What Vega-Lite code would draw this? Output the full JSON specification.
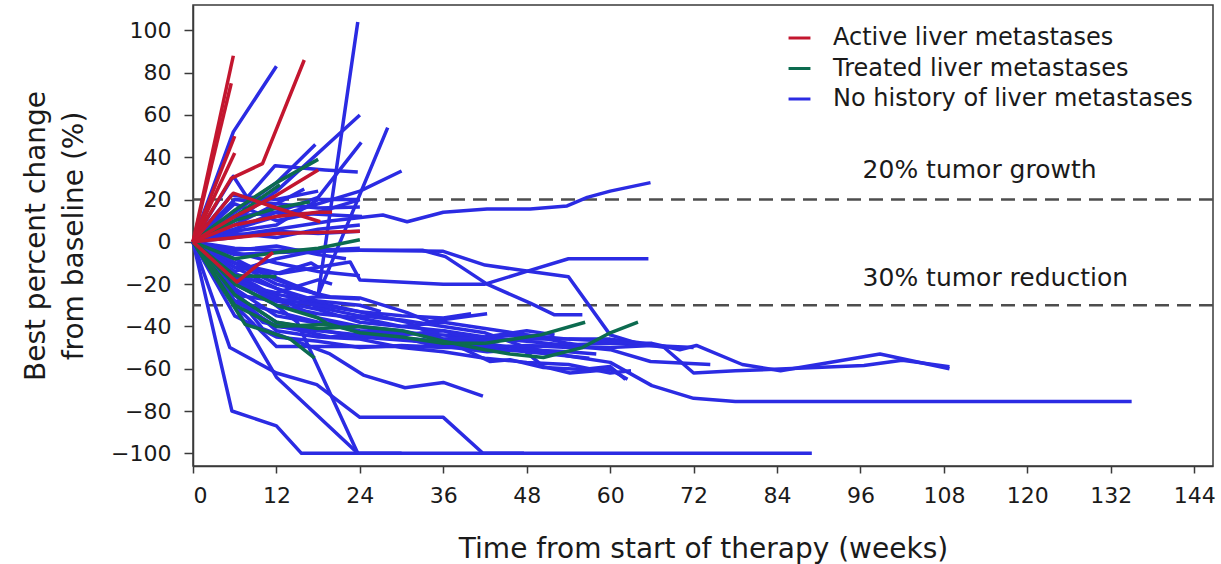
{
  "$schema": "https://vega.github.io/schema/vega-lite/v6.json",
  "width": 1020,
  "height": 461,
  "autosize": "none",
  "padding": {"left": 193, "top": 5, "right": 8, "bottom": 98},
  "background": "white",
  "config": {
    "font": "DejaVu Sans",
    "view": {"stroke": "#3a3a3a", "strokeWidth": 1.5},
    "axis": {"grid": false, "domainColor": "#3a3a3a", "domainWidth": 1.5, "tickColor": "#3a3a3a", "tickWidth": 1.5, "labelColor": "#1a1a1a", "titleColor": "#1a1a1a", "titleFontWeight": "normal", "labelFont": "DejaVu Sans", "titleFont": "DejaVu Sans"},
    "legend": {"labelFont": "DejaVu Sans"},
    "text": {"font": "DejaVu Sans"}
  },
  "datasets": {
    "lines": [
      {"id":1,"g":"N","w":0,"v":0},{"id":1,"g":"N","w":6,"v":-10},{"id":1,"g":"N","w":12,"v":-17},{"id":1,"g":"N","w":18,"v":-25},{"id":1,"g":"N","w":23.7,"v":104},
      {"id":2,"g":"N","w":0,"v":0},{"id":2,"g":"N","w":5.8,"v":52},{"id":2,"g":"N","w":12,"v":83},
      {"id":3,"g":"N","w":0,"v":0},{"id":3,"g":"N","w":6,"v":10},{"id":3,"g":"N","w":12,"v":24},{"id":3,"g":"N","w":24,"v":60},
      {"id":4,"g":"N","w":0,"v":0},{"id":4,"g":"N","w":6,"v":-8},{"id":4,"g":"N","w":12,"v":-18},{"id":4,"g":"N","w":18,"v":-25},{"id":4,"g":"N","w":28,"v":54},
      {"id":5,"g":"N","w":0,"v":0},{"id":5,"g":"N","w":6,"v":6},{"id":5,"g":"N","w":12,"v":14},{"id":5,"g":"N","w":18,"v":21},{"id":5,"g":"N","w":24.2,"v":47},
      {"id":6,"g":"N","w":0,"v":0},{"id":6,"g":"N","w":6,"v":14},{"id":6,"g":"N","w":12,"v":28},{"id":6,"g":"N","w":17.6,"v":46},
      {"id":7,"g":"N","w":0,"v":0},{"id":7,"g":"N","w":6,"v":6},{"id":7,"g":"N","w":12,"v":12},{"id":7,"g":"N","w":24,"v":24},{"id":7,"g":"N","w":30,"v":33.5},
      {"id":8,"g":"N","w":0,"v":0},{"id":8,"g":"N","w":5.8,"v":31},{"id":8,"g":"N","w":7.8,"v":21},{"id":8,"g":"N","w":11.8,"v":36},{"id":8,"g":"N","w":19,"v":34},{"id":8,"g":"N","w":23.7,"v":33},
      {"id":9,"g":"N","w":0,"v":0},{"id":9,"g":"N","w":6,"v":3},{"id":9,"g":"N","w":12,"v":6},{"id":9,"g":"N","w":20,"v":10},{"id":9,"g":"N","w":27.3,"v":12.7},{"id":9,"g":"N","w":30.8,"v":9.5},{"id":9,"g":"N","w":36,"v":14},{"id":9,"g":"N","w":42.3,"v":15.5},{"id":9,"g":"N","w":48.5,"v":15.5},{"id":9,"g":"N","w":53.8,"v":17},{"id":9,"g":"N","w":56.7,"v":21},{"id":9,"g":"N","w":60,"v":24},{"id":9,"g":"N","w":65.8,"v":28},
      {"id":10,"g":"N","w":0,"v":0},{"id":10,"g":"N","w":6,"v":-10},{"id":10,"g":"N","w":12.5,"v":-15},{"id":10,"g":"N","w":22.6,"v":-9.5},{"id":10,"g":"N","w":24,"v":-18},{"id":10,"g":"N","w":36,"v":-20},{"id":10,"g":"N","w":42,"v":-20},{"id":10,"g":"N","w":48,"v":-14},{"id":10,"g":"N","w":54,"v":-8},{"id":10,"g":"N","w":65.5,"v":-8},
      {"id":11,"g":"N","w":0,"v":0},{"id":11,"g":"N","w":6,"v":-3},{"id":11,"g":"N","w":12,"v":-4},{"id":11,"g":"N","w":24,"v":-4},{"id":11,"g":"N","w":36,"v":-4.5},{"id":11,"g":"N","w":42,"v":-11},{"id":11,"g":"N","w":48.5,"v":-14},{"id":11,"g":"N","w":54,"v":-16.5},{"id":11,"g":"N","w":60,"v":-44},{"id":11,"g":"N","w":64,"v":-48},
      {"id":12,"g":"N","w":0,"v":0},{"id":12,"g":"N","w":6,"v":-6},{"id":12,"g":"N","w":12,"v":-5},{"id":12,"g":"N","w":24,"v":-4},{"id":12,"g":"N","w":33,"v":-4},{"id":12,"g":"N","w":36.3,"v":-7},{"id":12,"g":"N","w":42.3,"v":-20},{"id":12,"g":"N","w":48.5,"v":-29},{"id":12,"g":"N","w":52,"v":-34.5},{"id":12,"g":"N","w":56,"v":-34.5},
      {"id":13,"g":"N","w":0,"v":0},{"id":13,"g":"N","w":6,"v":-25},{"id":13,"g":"N","w":12,"v":-38},{"id":13,"g":"N","w":24,"v":-45},{"id":13,"g":"N","w":36,"v":-48},{"id":13,"g":"N","w":48,"v":-52},{"id":13,"g":"N","w":54,"v":-54},{"id":13,"g":"N","w":60,"v":-57},{"id":13,"g":"N","w":66,"v":-68},{"id":13,"g":"N","w":72,"v":-74},{"id":13,"g":"N","w":78,"v":-75.5},{"id":13,"g":"N","w":135,"v":-75.5},
      {"id":14,"g":"N","w":0,"v":0},{"id":14,"g":"N","w":6,"v":-30},{"id":14,"g":"N","w":12,"v":-49.5},{"id":14,"g":"N","w":24,"v":-49.5},{"id":14,"g":"N","w":36,"v":-49.5},{"id":14,"g":"N","w":48,"v":-49.5},{"id":14,"g":"N","w":60,"v":-48},{"id":14,"g":"N","w":66,"v":-48},{"id":14,"g":"N","w":70,"v":-51},{"id":14,"g":"N","w":72.4,"v":-49},{"id":14,"g":"N","w":79,"v":-58},{"id":14,"g":"N","w":84.5,"v":-61},{"id":14,"g":"N","w":98.8,"v":-53},{"id":14,"g":"N","w":108.8,"v":-60},
      {"id":15,"g":"N","w":0,"v":0},{"id":15,"g":"N","w":6,"v":-28},{"id":15,"g":"N","w":12,"v":-40},{"id":15,"g":"N","w":24,"v":-44},{"id":15,"g":"N","w":36,"v":-47},{"id":15,"g":"N","w":48,"v":-46},{"id":15,"g":"N","w":60,"v":-46},{"id":15,"g":"N","w":64,"v":-47.6},{"id":15,"g":"N","w":67.6,"v":-49.5},{"id":15,"g":"N","w":72,"v":-62},{"id":15,"g":"N","w":78,"v":-61},{"id":15,"g":"N","w":96.5,"v":-58.5},{"id":15,"g":"N","w":102,"v":-56},{"id":15,"g":"N","w":108.8,"v":-59},
      {"id":16,"g":"N","w":0,"v":0},{"id":16,"g":"N","w":10,"v":-41},{"id":16,"g":"N","w":19.7,"v":-53},{"id":16,"g":"N","w":24.5,"v":-63},{"id":16,"g":"N","w":30.5,"v":-69},{"id":16,"g":"N","w":36,"v":-66.5},{"id":16,"g":"N","w":41.7,"v":-73},
      {"id":17,"g":"N","w":0,"v":0},{"id":17,"g":"N","w":5.3,"v":-50},{"id":17,"g":"N","w":12,"v":-62},{"id":17,"g":"N","w":17.8,"v":-67.5},{"id":17,"g":"N","w":24,"v":-83},{"id":17,"g":"N","w":36,"v":-83},{"id":17,"g":"N","w":41.7,"v":-100},{"id":17,"g":"N","w":47.6,"v":-100},
      {"id":18,"g":"N","w":0,"v":0},{"id":18,"g":"N","w":5.6,"v":-80},{"id":18,"g":"N","w":12,"v":-87},{"id":18,"g":"N","w":15.6,"v":-100},{"id":18,"g":"N","w":89,"v":-100},
      {"id":19,"g":"N","w":0,"v":0},{"id":19,"g":"N","w":6,"v":-30},{"id":19,"g":"N","w":12,"v":-64},{"id":19,"g":"N","w":23.7,"v":-100},{"id":19,"g":"N","w":30,"v":-100},
      {"id":20,"g":"N","w":0,"v":0},{"id":20,"g":"N","w":8,"v":-20},{"id":20,"g":"N","w":15,"v":-38},{"id":20,"g":"N","w":23.7,"v":-100},
      {"id":21,"g":"N","w":0,"v":0},{"id":21,"g":"N","w":12,"v":-20},{"id":21,"g":"N","w":19.7,"v":-26},{"id":21,"g":"N","w":24,"v":-26.5},{"id":21,"g":"N","w":30.8,"v":-33.5},{"id":21,"g":"N","w":34,"v":-37.7},{"id":21,"g":"N","w":42.3,"v":-34},
      {"id":22,"g":"N","w":0,"v":0},{"id":22,"g":"N","w":8,"v":-22},{"id":22,"g":"N","w":19.7,"v":-30},{"id":22,"g":"N","w":30.8,"v":-38},{"id":22,"g":"N","w":42.7,"v":-56.6},{"id":22,"g":"N","w":45.6,"v":-55.7},{"id":22,"g":"N","w":50.4,"v":-59.4},{"id":22,"g":"N","w":56,"v":-60.4},{"id":22,"g":"N","w":60,"v":-59},{"id":22,"g":"N","w":62.2,"v":-65},
      {"id":23,"g":"N","w":0,"v":0},{"id":23,"g":"N","w":10,"v":-38},{"id":23,"g":"N","w":19.7,"v":-45},{"id":23,"g":"N","w":27,"v":-43},{"id":23,"g":"N","w":34,"v":-48.5},{"id":23,"g":"N","w":42.3,"v":-52},{"id":23,"g":"N","w":47.5,"v":-51},{"id":23,"g":"N","w":50.4,"v":-59},{"id":23,"g":"N","w":54.2,"v":-62},{"id":23,"g":"N","w":60,"v":-60.4},{"id":23,"g":"N","w":62.5,"v":-65},
      {"id":24,"g":"N","w":0,"v":0},{"id":24,"g":"N","w":6,"v":-22},{"id":24,"g":"N","w":12,"v":-35},{"id":24,"g":"N","w":24,"v":-42},{"id":24,"g":"N","w":36,"v":-44},{"id":24,"g":"N","w":48,"v":-47},{"id":24,"g":"N","w":60,"v":-51},{"id":24,"g":"N","w":65.8,"v":-56.6},{"id":24,"g":"N","w":74.4,"v":-58},
      {"id":25,"g":"N","w":0,"v":0},{"id":25,"g":"N","w":6,"v":-18},{"id":25,"g":"N","w":12,"v":-28},{"id":25,"g":"N","w":18,"v":-32},{"id":25,"g":"N","w":24,"v":-38},{"id":25,"g":"N","w":30,"v":-40},{"id":25,"g":"N","w":36,"v":-42},{"id":25,"g":"N","w":42,"v":-45},{"id":25,"g":"N","w":48,"v":-44},{"id":25,"g":"N","w":54,"v":-46},{"id":25,"g":"N","w":60,"v":-47},{"id":25,"g":"N","w":66,"v":-49},{"id":25,"g":"N","w":68,"v":-50},
      {"id":26,"g":"N","w":0,"v":0},{"id":26,"g":"N","w":6,"v":-15},{"id":26,"g":"N","w":12,"v":-26},{"id":26,"g":"N","w":18,"v":-36},{"id":26,"g":"N","w":24,"v":-40},{"id":26,"g":"N","w":30,"v":-44},{"id":26,"g":"N","w":36,"v":-42},{"id":26,"g":"N","w":42,"v":-48},{"id":26,"g":"N","w":48,"v":-51},{"id":26,"g":"N","w":54,"v":-52},{"id":26,"g":"N","w":58,"v":-53},
      {"id":27,"g":"N","w":0,"v":0},{"id":27,"g":"N","w":6,"v":-20},{"id":27,"g":"N","w":12,"v":-30},{"id":27,"g":"N","w":18,"v":-34},{"id":27,"g":"N","w":24,"v":-36},{"id":27,"g":"N","w":30,"v":-40},{"id":27,"g":"N","w":36,"v":-38},{"id":27,"g":"N","w":42,"v":-41},{"id":27,"g":"N","w":48,"v":-44},{"id":27,"g":"N","w":54,"v":-48},{"id":27,"g":"N","w":56,"v":-49},
      {"id":28,"g":"N","w":0,"v":0},{"id":28,"g":"N","w":6,"v":-12},{"id":28,"g":"N","w":12,"v":-22},{"id":28,"g":"N","w":18,"v":-31},{"id":28,"g":"N","w":24,"v":-35},{"id":28,"g":"N","w":30,"v":-37},{"id":28,"g":"N","w":36,"v":-40},{"id":28,"g":"N","w":42,"v":-43},{"id":28,"g":"N","w":48,"v":-50},{"id":28,"g":"N","w":54,"v":-54},{"id":28,"g":"N","w":57,"v":-55},
      {"id":29,"g":"N","w":0,"v":0},{"id":29,"g":"N","w":6,"v":-25},{"id":29,"g":"N","w":12,"v":-42},{"id":29,"g":"N","w":18,"v":-45},{"id":29,"g":"N","w":24,"v":-46},{"id":29,"g":"N","w":30,"v":-50},{"id":29,"g":"N","w":36,"v":-52},{"id":29,"g":"N","w":42,"v":-55},{"id":29,"g":"N","w":48,"v":-57},{"id":29,"g":"N","w":54,"v":-58},{"id":29,"g":"N","w":60,"v":-62},{"id":29,"g":"N","w":63,"v":-61},
      {"id":30,"g":"N","w":0,"v":0},{"id":30,"g":"N","w":6,"v":-35},{"id":30,"g":"N","w":12,"v":-45},{"id":30,"g":"N","w":18,"v":-47},{"id":30,"g":"N","w":24,"v":-50},{"id":30,"g":"N","w":30,"v":-49},{"id":30,"g":"N","w":36,"v":-50},{"id":30,"g":"N","w":42,"v":-50},{"id":30,"g":"N","w":48,"v":-49},{"id":30,"g":"N","w":54,"v":-50},{"id":30,"g":"N","w":60,"v":-50},{"id":30,"g":"N","w":66,"v":-49},{"id":30,"g":"N","w":72,"v":-50},
      {"id":31,"g":"N","w":0,"v":0},{"id":31,"g":"N","w":6,"v":-28},{"id":31,"g":"N","w":12,"v":-33},{"id":31,"g":"N","w":18,"v":-38},{"id":31,"g":"N","w":24,"v":-40},{"id":31,"g":"N","w":30,"v":-42},{"id":31,"g":"N","w":36,"v":-46},{"id":31,"g":"N","w":42,"v":-45},{"id":31,"g":"N","w":48,"v":-42},{"id":31,"g":"N","w":52,"v":-44},
      {"id":32,"g":"N","w":0,"v":0},{"id":32,"g":"N","w":6,"v":-17},{"id":32,"g":"N","w":12,"v":-27},{"id":32,"g":"N","w":18,"v":-30},{"id":32,"g":"N","w":24,"v":-33},{"id":32,"g":"N","w":30,"v":-35},{"id":32,"g":"N","w":36,"v":-36},{"id":32,"g":"N","w":40,"v":-34},
      {"id":33,"g":"N","w":0,"v":0},{"id":33,"g":"N","w":6,"v":-15},{"id":33,"g":"N","w":12,"v":-22},{"id":33,"g":"N","w":18,"v":-28},{"id":33,"g":"N","w":24,"v":-30},{"id":33,"g":"N","w":27,"v":-33},
      {"id":34,"g":"N","w":0,"v":0},{"id":34,"g":"N","w":6,"v":20},{"id":34,"g":"N","w":12,"v":18},{"id":34,"g":"N","w":18,"v":16},{"id":34,"g":"N","w":24,"v":16.5},
      {"id":35,"g":"N","w":0,"v":0},{"id":35,"g":"N","w":6,"v":12},{"id":35,"g":"N","w":12,"v":14},{"id":35,"g":"N","w":18,"v":13},{"id":35,"g":"N","w":24.3,"v":12},
      {"id":36,"g":"N","w":0,"v":0},{"id":36,"g":"N","w":6,"v":5},{"id":36,"g":"N","w":12,"v":8},{"id":36,"g":"N","w":18,"v":20},{"id":36,"g":"N","w":24,"v":20},
      {"id":37,"g":"N","w":0,"v":0},{"id":37,"g":"N","w":6,"v":18},{"id":37,"g":"N","w":12,"v":10},{"id":37,"g":"N","w":18,"v":14},{"id":37,"g":"N","w":24,"v":20},
      {"id":38,"g":"N","w":0,"v":0},{"id":38,"g":"N","w":6,"v":4},{"id":38,"g":"N","w":12,"v":2},{"id":38,"g":"N","w":18,"v":6},{"id":38,"g":"N","w":24,"v":8},
      {"id":39,"g":"N","w":0,"v":0},{"id":39,"g":"N","w":6,"v":-4},{"id":39,"g":"N","w":12,"v":-2},{"id":39,"g":"N","w":18,"v":-6},{"id":39,"g":"N","w":22,"v":-8},
      {"id":40,"g":"N","w":0,"v":0},{"id":40,"g":"N","w":6,"v":-12},{"id":40,"g":"N","w":12,"v":-15},{"id":40,"g":"N","w":17,"v":-10},{"id":40,"g":"N","w":18,"v":-12},
      {"id":41,"g":"N","w":0,"v":0},{"id":41,"g":"N","w":6,"v":-20},{"id":41,"g":"N","w":12,"v":-24},{"id":41,"g":"N","w":18,"v":-18},{"id":41,"g":"N","w":20,"v":-20},
      {"id":42,"g":"N","w":0,"v":0},{"id":42,"g":"N","w":6,"v":8},{"id":42,"g":"N","w":12,"v":18},{"id":42,"g":"N","w":16,"v":25},
      {"id":43,"g":"N","w":0,"v":0},{"id":43,"g":"N","w":6,"v":-25},{"id":43,"g":"N","w":12,"v":-28},{"id":43,"g":"N","w":18,"v":-26},{"id":43,"g":"N","w":24,"v":-27},
      {"id":44,"g":"N","w":0,"v":0},{"id":44,"g":"N","w":6,"v":-5},{"id":44,"g":"N","w":12,"v":-10},{"id":44,"g":"N","w":18,"v":-14},{"id":44,"g":"N","w":24,"v":-16},
      {"id":45,"g":"N","w":0,"v":0},{"id":45,"g":"N","w":6,"v":2},{"id":45,"g":"N","w":12,"v":5},{"id":45,"g":"N","w":18,"v":4},{"id":45,"g":"N","w":24,"v":5},
      {"id":46,"g":"N","w":0,"v":0},{"id":46,"g":"N","w":5.5,"v":22},{"id":46,"g":"N","w":12,"v":20},{"id":46,"g":"N","w":18,"v":24},
      {"id":47,"g":"N","w":0,"v":0},{"id":47,"g":"N","w":6,"v":-14},{"id":47,"g":"N","w":12,"v":-8},{"id":47,"g":"N","w":18,"v":-4},{"id":47,"g":"N","w":24,"v":-3},
      {"id":51,"g":"T","w":0,"v":0},{"id":51,"g":"T","w":6,"v":15},{"id":51,"g":"T","w":12,"v":28},{"id":51,"g":"T","w":18,"v":39},
      {"id":52,"g":"T","w":0,"v":0},{"id":52,"g":"T","w":6,"v":10},{"id":52,"g":"T","w":12,"v":16},{"id":52,"g":"T","w":16.8,"v":19},
      {"id":53,"g":"T","w":0,"v":0},{"id":53,"g":"T","w":6,"v":-8},{"id":53,"g":"T","w":12,"v":-5},{"id":53,"g":"T","w":18,"v":-3},{"id":53,"g":"T","w":24,"v":1},
      {"id":54,"g":"T","w":0,"v":0},{"id":54,"g":"T","w":6,"v":-30},{"id":54,"g":"T","w":12,"v":-40},{"id":54,"g":"T","w":19.7,"v":-39},{"id":54,"g":"T","w":24,"v":-43},{"id":54,"g":"T","w":30,"v":-45},{"id":54,"g":"T","w":36,"v":-48},{"id":54,"g":"T","w":42,"v":-48},{"id":54,"g":"T","w":50,"v":-44},{"id":54,"g":"T","w":56.4,"v":-38},
      {"id":55,"g":"T","w":0,"v":0},{"id":55,"g":"T","w":6,"v":-25},{"id":55,"g":"T","w":12,"v":-38},{"id":55,"g":"T","w":18,"v":-41},{"id":55,"g":"T","w":24,"v":-40},{"id":55,"g":"T","w":30,"v":-42},{"id":55,"g":"T","w":36,"v":-47},{"id":55,"g":"T","w":42,"v":-51},{"id":55,"g":"T","w":45.6,"v":-53},{"id":55,"g":"T","w":50.4,"v":-54.7},{"id":55,"g":"T","w":56,"v":-50},{"id":55,"g":"T","w":60,"v":-43},{"id":55,"g":"T","w":64,"v":-38},
      {"id":56,"g":"T","w":0,"v":0},{"id":56,"g":"T","w":7.5,"v":-39},{"id":56,"g":"T","w":14,"v":-46},{"id":56,"g":"T","w":17.5,"v":-55},
      {"id":57,"g":"T","w":0,"v":0},{"id":57,"g":"T","w":6,"v":-16},{"id":57,"g":"T","w":12,"v":-16.5},
      {"id":58,"g":"T","w":0,"v":0},{"id":58,"g":"T","w":6,"v":12},{"id":58,"g":"T","w":12.5,"v":27},
      {"id":59,"g":"T","w":0,"v":0},{"id":59,"g":"T","w":6,"v":-20},{"id":59,"g":"T","w":12,"v":-30},{"id":59,"g":"T","w":18,"v":-36},{"id":59,"g":"T","w":20,"v":-40},
      {"id":61,"g":"A","w":0,"v":0},{"id":61,"g":"A","w":5.8,"v":88},
      {"id":62,"g":"A","w":0,"v":0},{"id":62,"g":"A","w":5.5,"v":75},
      {"id":63,"g":"A","w":0,"v":0},{"id":63,"g":"A","w":6,"v":50},
      {"id":64,"g":"A","w":0,"v":0},{"id":64,"g":"A","w":6,"v":42},
      {"id":65,"g":"A","w":0,"v":0},{"id":65,"g":"A","w":5.5,"v":30},{"id":65,"g":"A","w":10,"v":37},{"id":65,"g":"A","w":16,"v":86},
      {"id":66,"g":"A","w":0,"v":0},{"id":66,"g":"A","w":6,"v":12},{"id":66,"g":"A","w":12,"v":22},{"id":66,"g":"A","w":18,"v":34},
      {"id":67,"g":"A","w":0,"v":0},{"id":67,"g":"A","w":5.8,"v":23},{"id":67,"g":"A","w":12,"v":16},{"id":67,"g":"A","w":18.3,"v":9.5},
      {"id":68,"g":"A","w":0,"v":0},{"id":68,"g":"A","w":12,"v":4},{"id":68,"g":"A","w":24,"v":5},
      {"id":69,"g":"A","w":0,"v":0},{"id":69,"g":"A","w":6.3,"v":-19},{"id":69,"g":"A","w":11.5,"v":-5},
      {"id":70,"g":"A","w":0,"v":0},{"id":70,"g":"A","w":6,"v":8},{"id":70,"g":"A","w":12,"v":12},{"id":70,"g":"A","w":18,"v":14},{"id":70,"g":"A","w":20,"v":14}
    ],
    "refs": [
      {"v": 20, "label": "20% tumor growth", "ty": 34},
      {"v": -30, "label": "30% tumor reduction", "ty": -17}
    ]
  },
  "encoding": {
    "x": {"type": "quantitative", "scale": {"domain": [0, 146.7], "nice": false, "zero": false}},
    "y": {"type": "quantitative", "scale": {"domain": [-106, 112], "nice": false, "zero": false}}
  },
  "layer": [
    {
      "data": {"name": "refs"},
      "mark": {"type": "rule", "color": "#4d4d4d", "strokeWidth": 2.5, "strokeDash": [14, 8]},
      "encoding": {"y": {"field": "v", "type": "quantitative"}}
    },
    {
      "data": {"name": "lines"},
      "mark": {"type": "line", "strokeWidth": 3.5, "strokeJoin": "round"},
      "encoding": {
        "x": {
          "field": "w", "type": "quantitative",
          "axis": {"values": [0, 12, 24, 36, 48, 60, 72, 84, 96, 108, 120, 132, 144], "tickSize": 7, "labelFontSize": 22, "labelPadding": 12, "title": "Time from start of therapy (weeks)", "titleFontSize": 28, "titlePadding": 29}
        },
        "y": {
          "field": "v", "type": "quantitative",
          "axis": {"values": [-100, -80, -60, -40, -20, 0, 20, 40, 60, 80, 100], "tickSize": 9, "labelFontSize": 22, "labelPadding": 13, "title": ["Best percent change", "from baseline (%)"], "titleFontSize": 28, "titleLineHeight": 38, "titlePadding": 22}
        },
        "color": {
          "field": "g", "type": "nominal",
          "scale": {"domain": ["A", "T", "N"], "range": ["#c3162f", "#0c6b4f", "#2b2be3"]},
          "legend": {
            "orient": "none", "legendX": 594, "legendY": 20.5, "title": null,
            "symbolType": "stroke", "symbolStrokeWidth": 3, "symbolSize": 480,
            "labelFontSize": 24, "labelLimit": 500, "labelColor": "#1a1a1a", "rowPadding": 5.5, "labelOffset": 21,
            "labelExpr": "datum.label == 'A' ? 'Active liver metastases' : datum.label == 'T' ? 'Treated liver metastases' : 'No history of liver metastases'"
          }
        },
        "detail": {"field": "id", "type": "nominal"}
      }
    },
    {
      "data": {"name": "refs"},
      "mark": {"type": "text", "align": "left", "baseline": "middle", "fontSize": 25, "color": "#1a1a1a"},
      "encoding": {
        "x": {"datum": 96.3},
        "y": {"field": "ty", "type": "quantitative"},
        "text": {"field": "label"}
      }
    }
  ]
}
